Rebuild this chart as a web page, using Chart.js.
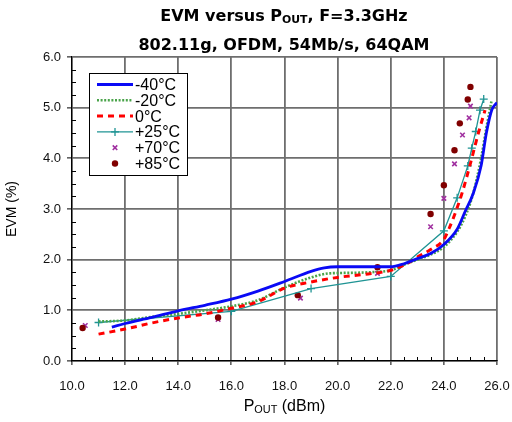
<!DOCTYPE html>
<html>
<head>
<meta charset="utf-8">
<script src="https://cdn.jsdelivr.net/npm/chart.js@4/dist/chart.umd.min.js"></script>
<style>
  html, body { margin: 0; padding: 0; background: #fff; overflow: hidden; }
  #wrap { position: relative; width: 512px; height: 422px; }
  #c { position: absolute; left: 0; top: 0; }
  .ttl { position: absolute; left: 56px; width: 456px; text-align: center;
         font-family: "DejaVu Sans", "Liberation Sans", Arial, sans-serif; font-weight: bold; font-size: 16px; color: #000; white-space: nowrap; }
  .xt { position: absolute; left: 72px; width: 425px; text-align: center; top: 397px;
        font-family: "Liberation Sans", Arial, sans-serif; font-size: 16px; color: #000; white-space: nowrap; }
  sub { font-size: 0.68em; vertical-align: -0.15em; line-height: 0; }
</style>
</head>
<body>
<div id="wrap">
  <canvas id="c" width="512" height="422"></canvas>
  <div class="ttl" style="top:6px">EVM versus P<sub>OUT</sub>, F=3.3GHz</div>
  <div class="ttl" style="top:35px">802.11g, OFDM, 54Mb/s, 64QAM</div>
  <div class="xt">P<sub>OUT</sub> (dBm)</div>
</div>
<script>
// ---- data (x = Pout dBm, y = EVM %) ----
const seriesLabels = ['-40°C', '-20°C', '0°C', '+25°C', '+70°C', '+85°C'];
const xTickValues = [10, 12, 14, 16, 18, 20, 22, 24, 26];
const yTickValues = [0, 1, 2, 3, 4, 5, 6];

const tM40 = [[11.5,0.67],[12,0.74],[13,0.86],[14,0.99],[15,1.1],[16,1.22],[17,1.38],[18,1.57],[19,1.77],[19.5,1.84],[20,1.86],[21,1.86],[22,1.86],[22.5,1.92],[23,2.02],[23.5,2.12],[24,2.3],[24.5,2.6],[24.8,2.95],[25.1,3.3],[25.4,3.85],[25.6,4.5],[25.8,4.95],[26,5.1]];
const tM20 = [[11,0.78],[12,0.8],[13,0.87],[14,0.93],[15,1.0],[16,1.08],[17,1.2],[18,1.45],[19,1.65],[19.7,1.73],[20.5,1.74],[21.5,1.76],[22,1.79],[22.5,1.9],[23,2.0],[23.5,2.1],[24,2.25],[24.5,2.55],[24.8,2.85],[25.1,3.3],[25.4,4.0],[25.6,4.6],[25.8,5.15]];
const t0 = [[11,0.53],[12,0.63],[13,0.75],[14,0.85],[15,0.93],[16,1.04],[17,1.17],[18,1.44],[19,1.56],[20,1.65],[21,1.71],[22,1.79],[22.6,1.92],[23,2.05],[23.5,2.2],[24,2.4],[24.2,2.62],[24.4,2.88],[24.7,3.34],[25,3.9],[25.3,4.5],[25.55,4.95]];
const tP25 = [[11,0.76],[16,0.98],[19,1.43],[22,1.67],[24,2.57],[24.5,3.22],[24.9,3.85],[25.05,4.2],[25.2,4.53],[25.36,4.95],[25.5,5.17]];
const tP70 = [[10.5,0.7],[15.5,0.82],[18.6,1.24],[21.5,1.73],[23.5,2.65],[24,3.21],[24.4,3.89],[24.7,4.46],[24.95,4.8],[25.0,5.03]];
const tP85 = [[10.4,0.65],[15.5,0.86],[18.5,1.3],[21.5,1.85],[23.5,2.9],[24,3.47],[24.4,4.16],[24.6,4.69],[24.9,5.16],[25.0,5.41]];

const toXY = arr => arr.map(p => ({x: p[0], y: p[1]}));

const FONT = '"Liberation Sans", Arial, sans-serif';

const datasets = [
  { label: seriesLabels[0], data: toXY(tM40), showLine: true, borderColor: '#0a0af5', borderWidth: 2.8,
    pointRadius: 0, cubicInterpolationMode: 'monotone', order: 1 },
  { label: seriesLabels[1], data: toXY(tM20), showLine: true, borderColor: '#4aa44a', borderWidth: 2.6,
    borderDash: [2, 1.6], pointRadius: 0, cubicInterpolationMode: 'monotone', order: 3 },
  { label: seriesLabels[2], data: toXY(t0), showLine: true, borderColor: '#ff0000', borderWidth: 3,
    borderDash: [6, 5], pointRadius: 0, cubicInterpolationMode: 'monotone', order: 2 },
  { label: seriesLabels[3], data: toXY(tP25), showLine: true, borderColor: '#1f9494', borderWidth: 1.3,
    pointStyle: 'cross', pointRadius: 4, pointBorderWidth: 1.3, pointBorderColor: '#1f9494', tension: 0, order: 4 },
  { label: seriesLabels[4], data: toXY(tP70), showLine: false, borderColor: '#a030a0', backgroundColor: '#a030a0',
    pointStyle: 'crossRot', pointRadius: 3.2, pointBorderWidth: 1.6, order: 6 },
  { label: seriesLabels[5], data: toXY(tP85), showLine: false, borderColor: '#800000', backgroundColor: '#800000',
    pointStyle: 'circle', pointRadius: 3.2, pointBorderWidth: 0, order: 5 }
];

const minorTicks = {
  id: 'minorTicks',
  afterDraw(chart) {
    const {ctx, chartArea: a, scales: {x, y}} = chart;
    ctx.save();
    ctx.strokeStyle = '#000';
    ctx.lineWidth = 1;
    for (let v = x.min; v <= x.max + 1e-9; v += 0.5) {
      if (Math.abs(v % 2) < 1e-9) continue;
      const px = Math.round(x.getPixelForValue(v)) + 0.5;
      ctx.beginPath(); ctx.moveTo(px, a.bottom); ctx.lineTo(px, a.bottom - 4); ctx.stroke();
    }
    for (let v = y.min; v <= y.max + 1e-9; v += 0.25) {
      if (Math.abs(v - Math.round(v)) < 1e-9) continue;
      const py = Math.round(y.getPixelForValue(v)) + 0.5;
      ctx.beginPath(); ctx.moveTo(a.left, py); ctx.lineTo(a.left + 4, py); ctx.stroke();
    }
    ctx.restore();
  }
};

const boxLegend = {
  id: 'boxLegend',
  afterDraw(chart) {
    const {ctx, chartArea: a} = chart;
    const L = a.left + 17, T = a.top + 16, W = 98, H = 102;
    ctx.save();
    ctx.fillStyle = '#fff';
    ctx.fillRect(L, T, W, H);
    ctx.strokeStyle = '#000';
    ctx.lineWidth = 1;
    ctx.setLineDash([]);
    ctx.strokeRect(L + 0.5, T + 0.5, W, H);
    ctx.font = '16px ' + FONT;
    ctx.textBaseline = 'middle';
    ctx.fillStyle = '#000';
    chart.data.datasets.forEach((ds, i) => {
      const yy = T + 11.5 + i * 15.8;
      const x0 = L + 8, x1 = L + 44, xm = (x0 + x1) / 2;
      if (ds.showLine) {
        ctx.save();
        ctx.strokeStyle = ds.borderColor;
        ctx.lineWidth = ds.borderWidth;
        ctx.setLineDash(ds.borderDash || []);
        ctx.beginPath(); ctx.moveTo(x0, yy); ctx.lineTo(x1, yy); ctx.stroke();
        ctx.restore();
      }
      if (ds.pointRadius > 0) {
        ctx.save();
        ctx.setLineDash([]);
        ctx.strokeStyle = ds.pointBorderColor || ds.borderColor;
        ctx.fillStyle = ds.backgroundColor || ds.borderColor;
        ctx.lineWidth = ds.pointBorderWidth || 1;
        Chart.helpers.drawPoint(ctx, {pointStyle: ds.pointStyle, radius: ds.pointRadius, rotation: 0, borderWidth: ds.pointBorderWidth}, xm, yy);
        ctx.restore();
      }
      ctx.fillStyle = '#000';
      ctx.fillText(ds.label, L + 46, yy + 1);
    });
    ctx.restore();
  }
};

new Chart(document.getElementById('c'), {
  type: 'scatter',
  data: { datasets },
  options: {
    responsive: false,
    animation: false,
    devicePixelRatio: 1,
    layout: { padding: { left: 0, right: 15, top: 57, bottom: 0 } },
    plugins: { legend: { display: false }, tooltip: { enabled: false }, title: { display: false } },
    scales: {
      x: {
        type: 'linear', min: 10, max: 26,
        afterBuildTicks: s => { s.ticks = xTickValues.map(v => ({value: v})); },
        afterFit: s => { s.height = 61; s.paddingLeft = 0; s.paddingRight = 0; },
        ticks: { callback: v => Number(v).toFixed(1), color: '#111', font: { family: FONT, size: 13 }, padding: 14, maxRotation: 0 },
        grid: { color: '#6e6e6e', lineWidth: 1.8, tickColor: '#000', tickLength: 4, tickWidth: 1 },
        border: { color: '#000', width: 1.2 }
      },
      y: {
        type: 'linear', min: 0, max: 6,
        afterBuildTicks: s => { s.ticks = yTickValues.map(v => ({value: v})); },
        afterFit: s => { s.width = 72; s.paddingTop = 0; s.paddingBottom = 0; },
        ticks: { callback: v => Number(v).toFixed(1), color: '#111', font: { family: FONT, size: 13 }, padding: 6 },
        grid: { color: '#6e6e6e', lineWidth: 1.8, tickColor: '#000', tickLength: 5, tickWidth: 1 },
        border: { color: '#000', width: 1.2 },
        title: { display: true, text: 'EVM (%)', color: '#000', font: { family: FONT, size: 14 }, padding: { top: 4, bottom: 0 } }
      }
    }
  },
  plugins: [minorTicks, boxLegend]
});
</script>
</body>
</html>
